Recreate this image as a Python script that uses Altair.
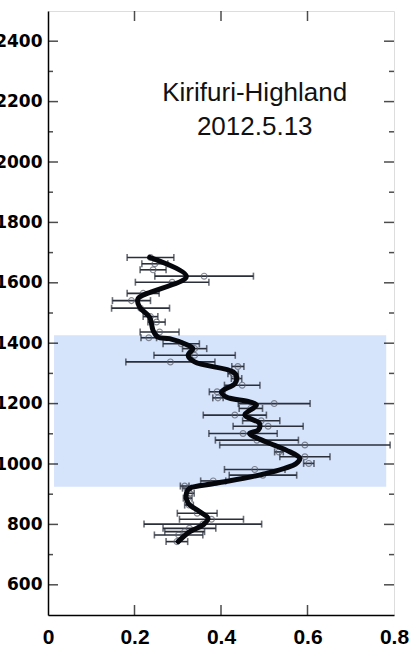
import altair as alt
import pandas as pd

# measured points: x value, altitude, half error
pt_x = [0.237, 0.247, 0.243, 0.361, 0.287, 0.220, 0.193, 0.214, 0.237, 0.251,
        0.258, 0.233, 0.308, 0.339, 0.339, 0.283, 0.439, 0.428, 0.436, 0.449,
        0.391, 0.393, 0.523, 0.469, 0.432, 0.493, 0.509, 0.451, 0.483, 0.594,
        0.534, 0.594, 0.603, 0.478, 0.497, 0.382, 0.316, 0.321, 0.328, 0.323,
        0.326, 0.345, 0.378, 0.358, 0.327, 0.316, 0.302, 0.298]
pt_y = [1684, 1663, 1643, 1622, 1602, 1565, 1541, 1516, 1488, 1470,
        1437, 1418, 1398, 1382, 1360, 1338, 1323, 1299, 1283, 1261,
        1239, 1219, 1200, 1184, 1162, 1143, 1125, 1101, 1079, 1063,
        1040, 1024, 1002, 982, 963, 944, 927, 920, 903, 887,
        864, 837, 817, 801, 787, 776, 765, 743]
pt_err = [0.054, 0.030, 0.030, 0.114, 0.085, 0.037, 0.044, 0.067, 0.017, 0.020,
          0.045, 0.018, 0.042, 0.028, 0.094, 0.103, 0.014, 0.012, 0.012, 0.041,
          0.018, 0.012, 0.083, 0.027, 0.073, 0.043, 0.081, 0.079, 0.096, 0.197,
          0.010, 0.058, 0.012, 0.070, 0.078, 0.029, 0.010, 0.010, 0.010, 0.010,
          0.010, 0.046, 0.074, 0.136, 0.061, 0.046, 0.056, 0.025]

# smoothed profile
line_x = [0.235, 0.320, 0.208, 0.212, 0.235, 0.243, 0.254, 0.281, 0.324, 0.335,
          0.324, 0.339, 0.428, 0.436, 0.432, 0.401, 0.412, 0.466, 0.482, 0.455,
          0.489, 0.486, 0.466, 0.505, 0.551, 0.582, 0.574, 0.505, 0.389, 0.328,
          0.320, 0.324, 0.351, 0.370, 0.358, 0.328, 0.301]
line_y = [1684, 1621, 1547, 1519, 1486, 1442, 1420, 1415, 1393, 1382,
          1360, 1338, 1305, 1288, 1266, 1239, 1222, 1206, 1195, 1162,
          1134, 1112, 1101, 1073, 1046, 1019, 1002, 969, 936, 920,
          903, 870, 842, 820, 798, 776, 743]

band_x = [0.014, 0.782]
band_y = [925, 1426]

x_ticks = [0, 0.2, 0.4, 0.6, 0.8]
y_major = [600, 800, 1000, 1200, 1400, 1600, 1800, 2000, 2200, 2400]
y_minor = [700, 900, 1100, 1300, 1500, 1700, 1900, 2100, 2300]
title_lines = ["Kirifuri-Highland", "2012.5.13"]
title_y = [2228, 2116]
title_x = 0.478

XD = [0, 0.8]
YD = [500, 2500]

pts = pd.DataFrame({"x": pt_x, "y": pt_y, "e": pt_err})
pts["lo"] = pts["x"] - pts["e"]
pts["hi"] = pts["x"] + pts["e"]
ln = pd.DataFrame({"x": line_x, "y": line_y, "o": range(len(line_x))})
band = pd.DataFrame({"x": [band_x[0]], "x2": [band_x[1]], "y": [band_y[0]], "y2": [band_y[1]]})
txt = pd.DataFrame({"t": title_lines, "y": title_y, "x": [title_x] * 2})

xs = alt.Scale(domain=XD, nice=False, zero=False)
ys = alt.Scale(domain=YD, nice=False, zero=False)

xax = alt.Axis(values=x_ticks, format="~g", title=None, grid=False, ticks=False,
               labelFont="Liberation Sans", labelFontWeight="bold", labelFontSize=21,
               labelColor="#000", labelPadding=11, labelFlush=False,
               domainColor="#000", domainWidth=1.5)
yax = alt.Axis(values=y_major, format="d", title=None, grid=False, ticks=False,
               labelFont="DejaVu Sans", labelFontWeight="bold", labelFontSize=17,
               labelColor="#000", labelPadding=6, domainColor="#000", domainWidth=1.5)

rect = alt.Chart(band).mark_rect(color="#d5e3fb").encode(
    x=alt.X("x:Q", scale=xs, axis=xax), x2="x2:Q",
    y=alt.Y("y:Q", scale=ys, axis=yax), y2="y2:Q")

bars = alt.Chart(pts).mark_rule(color="#2a2f3a", strokeWidth=1.6).encode(
    x=alt.X("lo:Q", scale=xs), x2="hi:Q", y=alt.Y("y:Q", scale=ys))
capl = alt.Chart(pts).mark_tick(orient="vertical", color="#2a2f3a", size=7, thickness=1.6).encode(
    x=alt.X("lo:Q", scale=xs), y=alt.Y("y:Q", scale=ys))
caph = alt.Chart(pts).mark_tick(orient="vertical", color="#2a2f3a", size=7, thickness=1.6).encode(
    x=alt.X("hi:Q", scale=xs), y=alt.Y("y:Q", scale=ys))
circ = alt.Chart(pts).mark_point(shape="circle", filled=False, color="#555a66",
                                 size=34, strokeWidth=1.2).encode(
    x=alt.X("x:Q", scale=xs), y=alt.Y("y:Q", scale=ys))
line = alt.Chart(ln).mark_line(color="#05070d", strokeWidth=5, interpolate="catmull-rom",
                               strokeCap="round", strokeJoin="round").encode(
    x=alt.X("x:Q", scale=xs), y=alt.Y("y:Q", scale=ys), order="o:Q")

def hticks(vals, xpos, size):
    d = pd.DataFrame({"v": vals})
    return alt.Chart(d).mark_tick(orient="horizontal", color="#000", size=size,
                                  thickness=1.5, clip=True).encode(
        x=alt.datum(xpos, scale=xs), y=alt.Y("v:Q", scale=ys))

def vticks(vals, ypos, size):
    d = pd.DataFrame({"v": vals})
    return alt.Chart(d).mark_tick(orient="vertical", color="#000", size=size,
                                  thickness=1.5, clip=True).encode(
        x=alt.X("v:Q", scale=xs), y=alt.datum(ypos, scale=ys))

ticks = [hticks(y_major, XD[0], 20), hticks(y_minor, XD[0], 10),
         hticks(y_major, XD[1], 20), hticks(y_minor, XD[1], 10),
         vticks(x_ticks[1:-1], YD[0], 20), vticks(x_ticks[1:-1], YD[1], 20)]

text = alt.Chart(txt).mark_text(font="Liberation Sans", fontSize=26, color="#111",
                                align="center", baseline="middle").encode(
    x=alt.X("x:Q", scale=xs), y=alt.Y("y:Q", scale=ys), text="t:N")

chart = alt.layer(rect, bars, capl, caph, circ, line, *ticks, text).properties(
    width=346, height=604, autosize="none",
    padding={"left": 48, "top": 11, "right": 19, "bottom": 33},
).configure_view(stroke="#000", strokeWidth=1.5).configure(background="white")

chart.save("out.html", embed_options={"renderer": "svg", "actions": False})
